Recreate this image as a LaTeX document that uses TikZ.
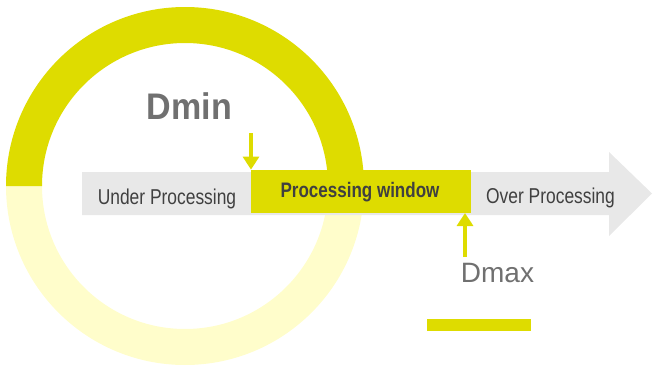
\documentclass[tikz,border=0pt]{standalone}
\usepackage{fontspec}
\setmainfont{Liberation Sans}
\newfontfamily\labfont[FakeStretch=0.81]{Liberation Sans}
\newfontfamily\headfont[FakeStretch=0.92]{Liberation Sans}
\usetikzlibrary{arrows.meta}
\definecolor{ydark}{HTML}{DEDC00}
\definecolor{ypale}{HTML}{FFFDCB}
\definecolor{bandgray}{HTML}{E8E8E8}
\definecolor{txtdark}{HTML}{404040}
\definecolor{txtgray}{HTML}{707070}
\tikzset{
  lbl/.style={anchor=base, inner sep=0pt, text=txtdark, font=\labfont\fontsize{21.5}{24}\selectfont},
  pointer/.style={draw=ydark, line width=4pt, -{Triangle[width=16pt,length=13pt]}, shorten >=0pt},
}
\begin{document}
\begin{tikzpicture}[x=1pt,y=1pt]
\useasboundingbox (0,0) rectangle (654,368);
% ring
\fill[ypale] (185+179,182) arc[start angle=0,end angle=-180,radius=179] -- (185-143,182) arc[start angle=180,end angle=360,radius=143] -- cycle;
\fill[ydark] (185+179,182) arc[start angle=0,end angle=180,radius=179] -- (185-143,182) arc[start angle=180,end angle=0,radius=143] -- cycle;
% band arrow
\fill[bandgray] (82,196) -- (609,196) -- (609,216) -- (652,174.5) -- (609,132) -- (609,153) -- (82,153) -- cycle;
% processing window
\node[fill=ydark, minimum width=220pt, minimum height=43pt, inner sep=0pt, anchor=south west] (win) at (251,155) {};
\node[lbl] (under) at (167,164) {Under Processing};
\node[lbl, font=\labfont\bfseries\fontsize{21}{24}\selectfont] (pw) at (360,171) {Processing window};
\node[lbl] (over) at (550.5,165) {Over Processing};
\node[anchor=base, inner sep=0pt, text=txtgray, font=\headfont\bfseries\fontsize{37}{40}\selectfont] (dmin) at (189.5,249) {Dmin};
\node[anchor=base, inner sep=0pt, text=txtgray, font=\fontsize{28}{32}\selectfont] (dmax) at (497.5,86) {Dmax};
% pointers
\coordinate (dminstart) at (251,235);
\coordinate (dmaxstart) at (465,111);
\coordinate (dmaxend) at (465,155);
\draw[pointer] (dminstart) -- (win.north west);
\draw[pointer] (dmaxstart) -- (dmaxend);
% bottom bar
\node[fill=ydark, minimum width=104pt, minimum height=12pt, inner sep=0pt, anchor=south west] (bar) at (427,37) {};
\end{tikzpicture}
\end{document}
